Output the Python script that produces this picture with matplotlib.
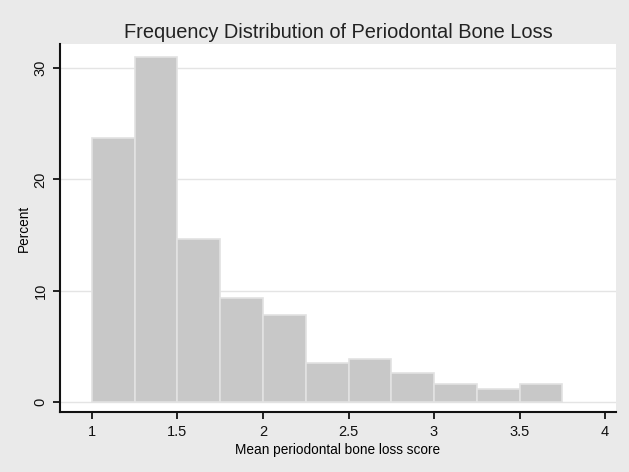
import matplotlib
matplotlib.use("Agg")
import matplotlib.pyplot as plt

# histogram bins (left edges) and percent per bin
bin_left = [1.0, 1.25, 1.5, 1.75, 2.0, 2.25, 2.5, 2.75, 3.0, 3.25, 3.5]
bin_width = 0.25
percent = [23.7, 31.0, 14.6, 9.3, 7.8, 3.5, 3.9, 2.6, 1.6, 1.2, 1.6]

x_ticks = [1, 1.5, 2, 2.5, 3, 3.5, 4]
x_labels = ["1", "1.5", "2", "2.5", "3", "3.5", "4"]
y_ticks = [0, 10, 20, 30]

plt.rcParams['font.family'] = ['Liberation Sans', 'DejaVu Sans']

fig = plt.figure(figsize=(6.29, 4.72), dpi=100)
fig.patch.set_facecolor('#eaeaea')
ax = fig.add_axes([60 / 629, 60 / 472, 556 / 629, 368 / 472])
ax.set_facecolor('white')

for y in y_ticks:
    ax.axhline(y, color='#e4e4e4', lw=1.0, zorder=0)

ax.bar(bin_left, percent, width=bin_width, align='edge',
       color='#c8c8c8', edgecolor='#e2e2e2', linewidth=1.2, zorder=2)

ax.set_xlim(0.813, 4.064)
ax.set_ylim(-0.9, 32.16)

ax.set_xticks(x_ticks)
ax.set_xticklabels(x_labels)
ax.set_yticks(y_ticks)
ax.set_yticklabels([str(v) for v in y_ticks], rotation=90, va='center')

for s in ['top', 'right']:
    ax.spines[s].set_visible(False)
for s in ['left', 'bottom']:
    ax.spines[s].set_linewidth(1.5)
    ax.spines[s].set_color('#111111')

ax.tick_params(axis='both', direction='out', length=5, width=1.3,
               labelsize=10.5, colors='#111111', pad=4)

ax.set_xlabel("Mean periodontal bone loss score", fontsize=9.8, labelpad=3)
ax.set_ylabel("Percent", fontsize=9.8, labelpad=2)
fig.text(338 / 629, 1 - 33 / 472, "Frequency Distribution of Periodontal Bone Loss",
         ha='center', va='center', fontsize=14.4, color='#222222')

fig.savefig("out.png", dpi=100, facecolor=fig.get_facecolor())
